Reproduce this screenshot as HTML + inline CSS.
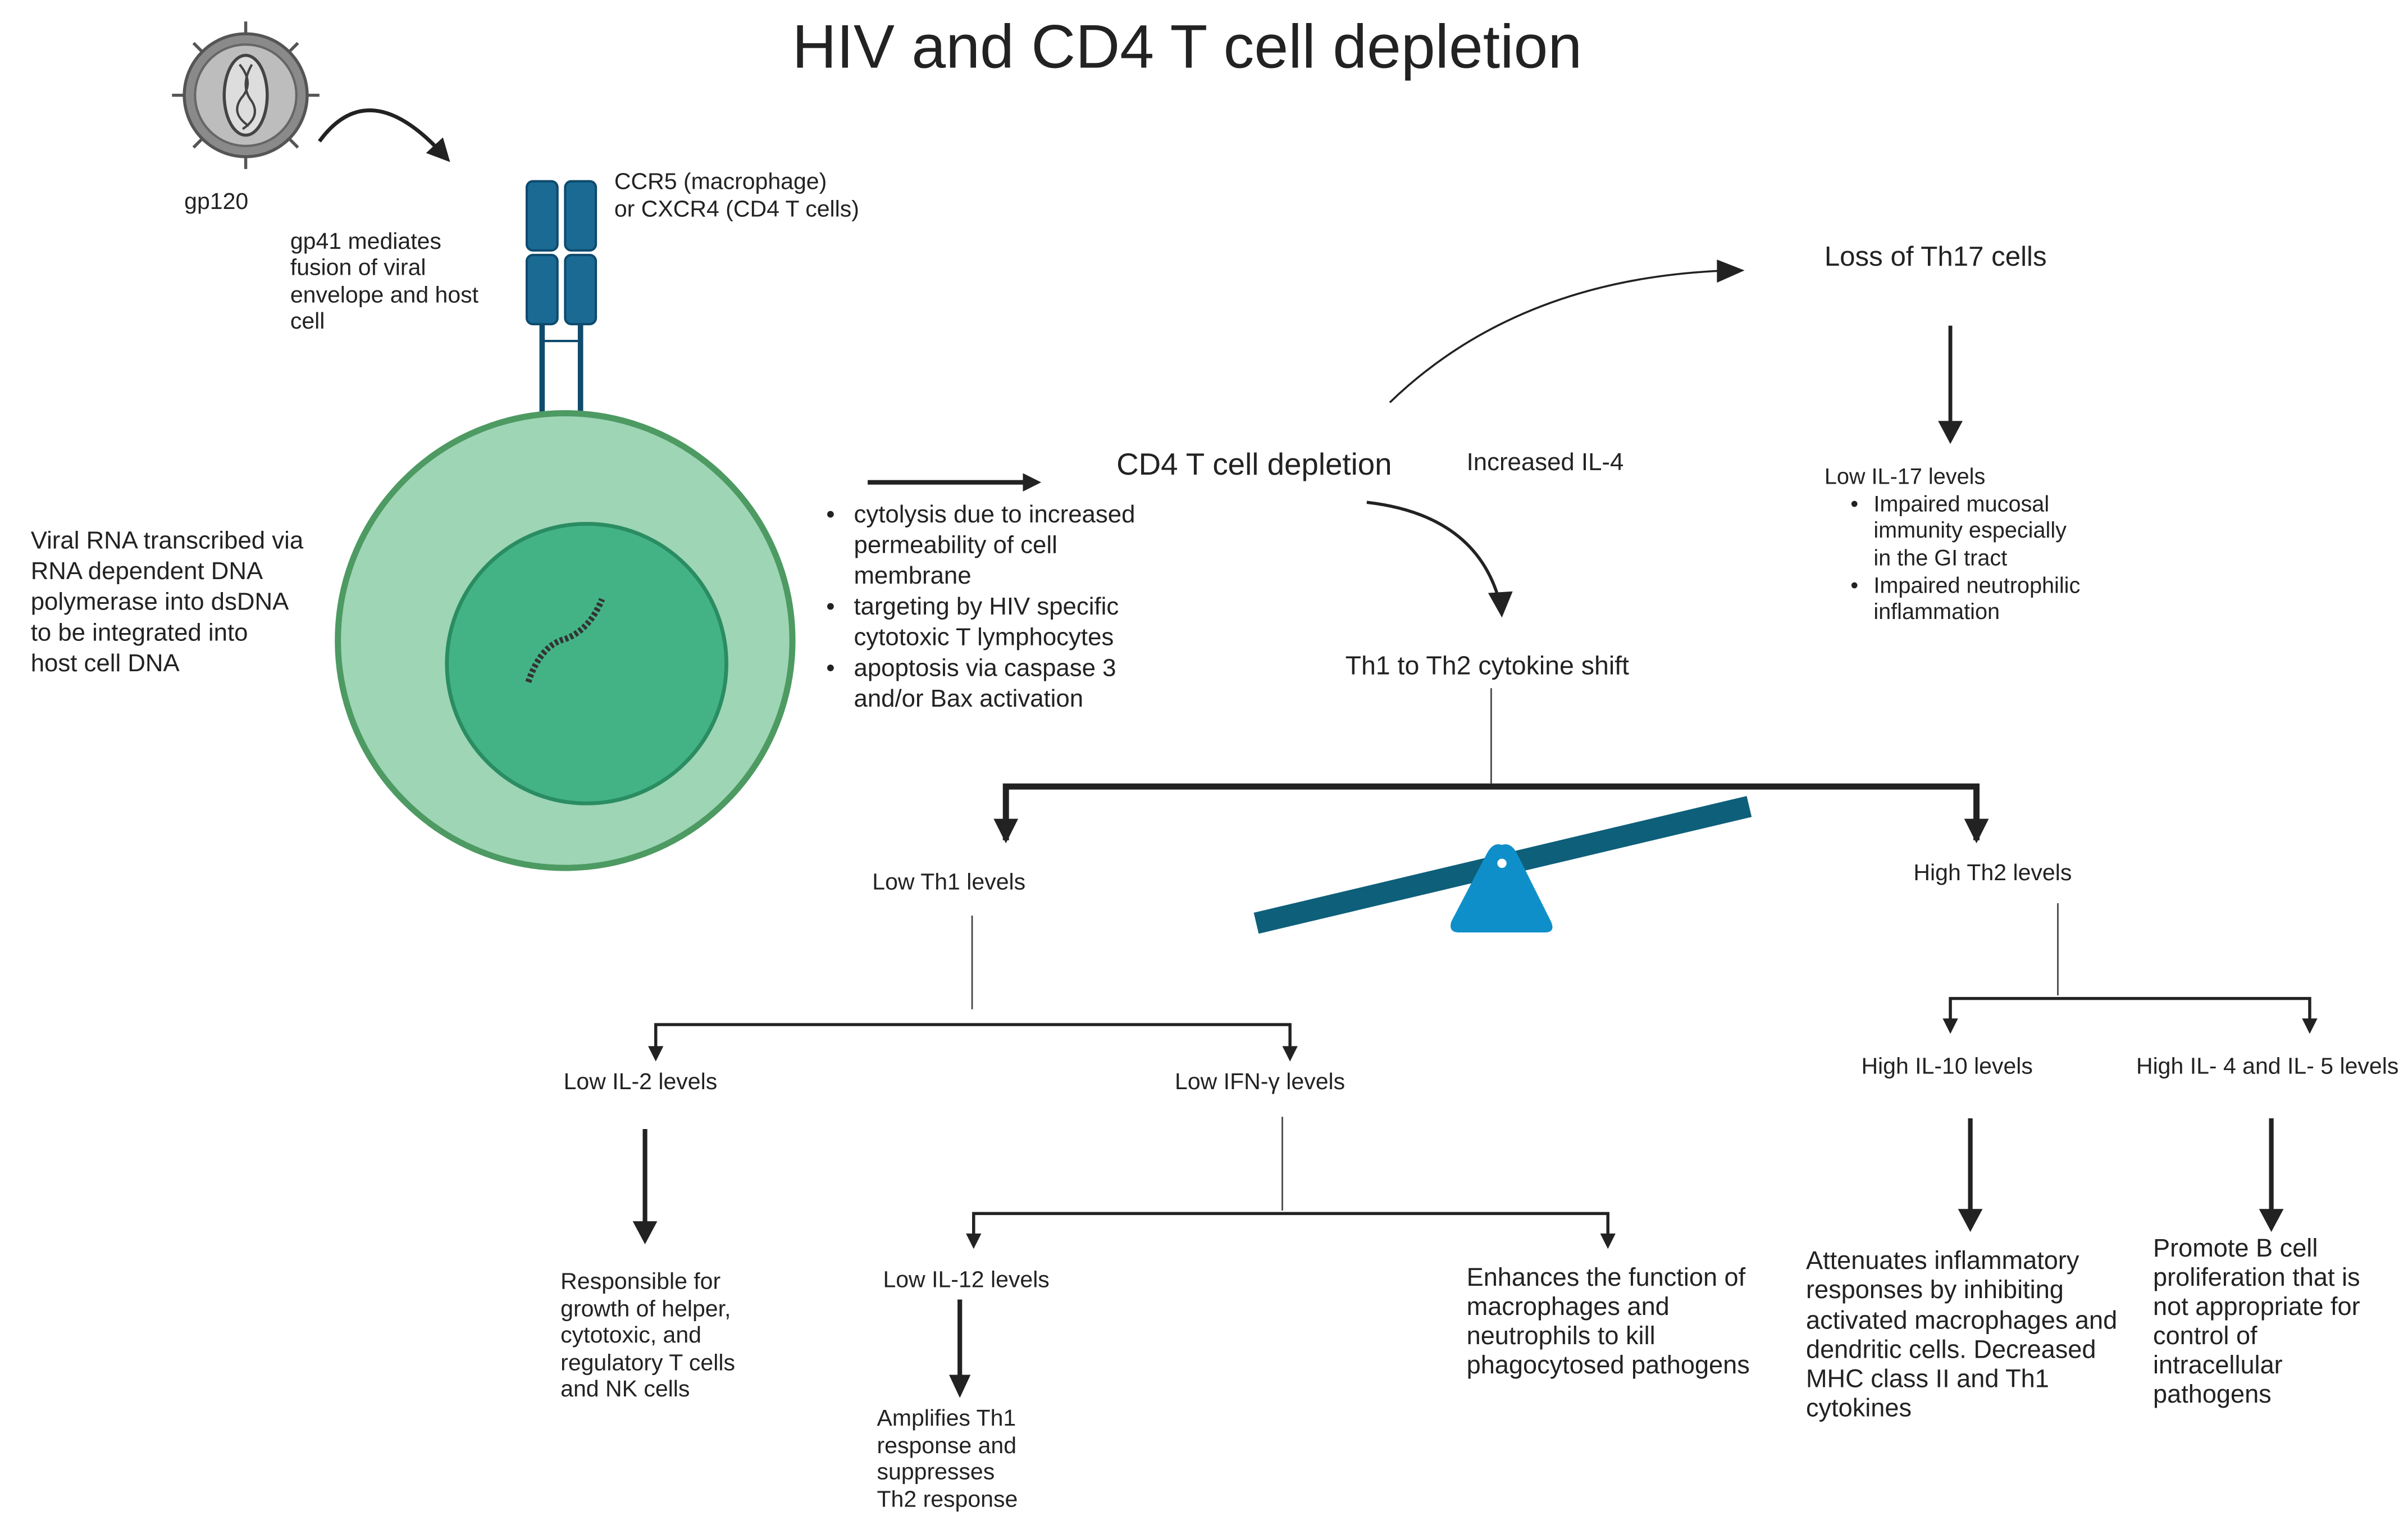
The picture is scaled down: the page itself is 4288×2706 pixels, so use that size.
<!DOCTYPE html>
<html><head><meta charset="utf-8"><style>
html,body{margin:0;padding:0;background:#fff;}
svg{display:block;}
text{font-family:"Liberation Sans",sans-serif;fill:#222;}
</style></head><body>
<svg width="4288" height="2706" viewBox="0 0 1568 989.5" xmlns="http://www.w3.org/2000/svg">
<defs>
<marker id="ah" markerWidth="6" markerHeight="6" refX="3" refY="3" orient="auto" markerUnits="strokeWidth"><path d="M0,0 L6,3 L0,6 z" fill="#222"/></marker>
<marker id="ah2" markerWidth="4" markerHeight="4" refX="2" refY="2" orient="auto" markerUnits="strokeWidth"><path d="M0,0 L4,2 L0,4 z" fill="#222"/></marker>
</defs>
<rect width="1568" height="989.5" fill="#fff"/>
<text x="773" y="44" font-size="40" text-anchor="middle">HIV and CD4 T cell depletion</text>

<!-- virus -->
<g transform="translate(160,62)">
<g stroke="#555" stroke-width="2">
<line x1="-48" y1="0" x2="48" y2="0"/><line x1="0" y1="-48" x2="0" y2="48"/>
<line x1="-34" y1="-34" x2="34" y2="34"/><line x1="-34" y1="34" x2="34" y2="-34"/>
</g>
<circle r="40" fill="#8a8a8a" stroke="#555" stroke-width="2"/>
<circle r="33" fill="#bdbdbd" stroke="#666" stroke-width="1.5"/>
<ellipse rx="14" ry="26" fill="#ddd" stroke="#444" stroke-width="2"/>
<path d="M-4,-20 Q6,-8 -3,2 Q-10,12 2,20" stroke="#444" fill="none" stroke-width="1.5"/>
<path d="M4,-20 Q-4,-6 4,4 Q10,14 -2,22" stroke="#444" fill="none" stroke-width="1.5"/>
</g>
<path d="M208,92 Q240,48 288,100" stroke="#222" stroke-width="2.5" fill="none" marker-end="url(#ah)"/>
<text x="120" y="136" font-size="15">gp120</text>

<!-- receptors -->
<g fill="#1a6a94" stroke="#0e4b6d" stroke-width="1.5">
<rect x="343" y="118" width="20" height="45" rx="4"/><rect x="343" y="166" width="20" height="45" rx="4"/>
<rect x="368" y="118" width="20" height="45" rx="4"/><rect x="368" y="166" width="20" height="45" rx="4"/>
</g>
<g stroke="#0e4b6d" stroke-width="3.5"><line x1="353" y1="211" x2="353" y2="293"/><line x1="378" y1="211" x2="378" y2="293"/></g>
<line x1="353" y1="222" x2="378" y2="222" stroke="#0e4b6d" stroke-width="1.5"/>
<text font-size="15"><tspan x="400" y="123">CCR5 (macrophage)</tspan><tspan x="400" y="141">or CXCR4 (CD4 T cells)</tspan></text>
<text font-size="15"><tspan x="189" y="162">gp41 mediates</tspan><tspan x="189" y="179">fusion of viral</tspan><tspan x="189" y="197">envelope and host</tspan><tspan x="189" y="214">cell</tspan></text>

<!-- cell -->
<circle cx="368" cy="417" r="148" fill="#9dd5b5" stroke="#4d9a62" stroke-width="4"/>
<circle cx="382" cy="432" r="91" fill="#43b385" stroke="#2a8c62" stroke-width="2.5"/>
<path d="M344,444 Q352,420 368,416 Q384,410 392,390" stroke="#333" stroke-width="4" fill="none" stroke-dasharray="2 1.5"/>
<text font-size="16"><tspan x="20" y="357">Viral RNA transcribed via</tspan><tspan x="20" y="377">RNA dependent DNA</tspan><tspan x="20" y="397">polymerase into dsDNA</tspan><tspan x="20" y="417">to be integrated into</tspan><tspan x="20" y="437">host cell DNA</tspan></text>

<line x1="565" y1="314" x2="672" y2="314" stroke="#222" stroke-width="3" marker-end="url(#ah2)"/>
<text x="727" y="309" font-size="20">CD4 T cell depletion</text>
<g font-size="16">
<text x="538" y="340">•</text><text x="556" y="340">cytolysis due to increased</text>
<text x="556" y="360">permeability of cell</text><text x="556" y="380">membrane</text>
<text x="538" y="400">•</text><text x="556" y="400">targeting by HIV specific</text>
<text x="556" y="420">cytotoxic T lymphocytes</text>
<text x="538" y="440">•</text><text x="556" y="440">apoptosis via caspase 3</text>
<text x="556" y="460">and/or Bax activation</text>
</g>
<text x="955" y="306" font-size="16">Increased IL-4</text>
<path d="M905,262 Q990,180 1128,176" stroke="#222" stroke-width="1.3" fill="none"/>
<path d="M1118,169 L1136,176 L1118,184 z" fill="#222"/>
<text x="1188" y="173" font-size="18">Loss of Th17 cells</text>
<line x1="1270" y1="212" x2="1270" y2="278" stroke="#222" stroke-width="2.5"/>
<path d="M1262,274 L1270,289 L1278,274 z" fill="#222"/>
<g font-size="14.5">
<text x="1188" y="315">Low IL-17 levels</text>
<text x="1205" y="333">•</text><text x="1220" y="333">Impaired mucosal</text>
<text x="1220" y="350">immunity especially</text><text x="1220" y="368">in the GI tract</text>
<text x="1205" y="386">•</text><text x="1220" y="386">Impaired neutrophilic</text>
<text x="1220" y="403">inflammation</text>
</g>
<path d="M890,327 Q960,335 976,390" stroke="#222" stroke-width="2" fill="none"/>
<path d="M969,386 L978,402 L985,385 z" fill="#222"/>
<text x="876" y="439" font-size="17">Th1 to Th2 cytokine shift</text>
<line x1="971" y1="448" x2="971" y2="510" stroke="#444" stroke-width="1"/>
<path d="M655,547 L655,512 L1287,512 L1287,547" stroke="#222" stroke-width="4" fill="none"/>
<path d="M647,533 L655,549 L663,533 z" fill="#222"/><path d="M1279,533 L1287,549 L1295,533 z" fill="#222"/>

<!-- seesaw -->
<line x1="818" y1="601" x2="1139" y2="525" stroke="#0e5f7a" stroke-width="14"/>
<path d="M978,550 Q972,548 968,556 L945,600 Q943,607 950,607 L1006,607 Q1013,607 1010,600 L988,556 Q984,548 978,550 z" fill="#0f8fc9"/>
<circle cx="978" cy="562" r="3" fill="#fff"/>

<text x="568" y="579" font-size="15">Low Th1 levels</text>
<line x1="633" y1="596" x2="633" y2="657" stroke="#444" stroke-width="1"/>
<path d="M427,685 L427,667 L840,667 L840,685" stroke="#222" stroke-width="2" fill="none"/>
<path d="M422,681 L427,691 L432,681 z" fill="#222"/><path d="M835,681 L840,691 L845,681 z" fill="#222"/>
<text x="1246" y="573" font-size="15">High Th2 levels</text>
<line x1="1340" y1="588" x2="1340" y2="648" stroke="#444" stroke-width="1"/>
<path d="M1270,667 L1270,650 L1504,650 L1504,667" stroke="#222" stroke-width="2" fill="none"/>
<path d="M1265,663 L1270,673 L1275,663 z" fill="#222"/><path d="M1499,663 L1504,673 L1509,663 z" fill="#222"/>

<g font-size="15">
<text x="367" y="709">Low IL-2 levels</text>
<text x="765" y="709">Low IFN-γ levels</text>
<text x="1212" y="699">High IL-10 levels</text>
<text x="1391" y="699">High IL- 4 and IL- 5 levels</text>
</g>
<g stroke="#222" stroke-width="3">
<line x1="420" y1="735" x2="420" y2="798"/><line x1="1283" y1="728" x2="1283" y2="790"/><line x1="1479" y1="728" x2="1479" y2="790"/>
<line x1="625" y1="846" x2="625" y2="898"/>
</g>
<path d="M412,795 L420,810 L428,795 z" fill="#222"/>
<path d="M1275,787 L1283,802 L1291,787 z" fill="#222"/>
<path d="M1471,787 L1479,802 L1487,787 z" fill="#222"/>
<path d="M618,895 L625,910 L632,895 z" fill="#222"/>
<line x1="835" y1="727" x2="835" y2="788" stroke="#444" stroke-width="1"/>
<path d="M634,807 L634,790 L1047,790 L1047,807" stroke="#222" stroke-width="2" fill="none"/>
<path d="M629,803 L634,813 L639,803 z" fill="#222"/><path d="M1042,803 L1047,813 L1052,803 z" fill="#222"/>

<g font-size="15">
<text x="365" y="839">Responsible for</text><text x="365" y="857">growth of helper,</text><text x="365" y="874">cytotoxic, and</text><text x="365" y="892">regulatory T cells</text><text x="365" y="909">and NK cells</text>
<text x="575" y="838">Low IL-12 levels</text>
<text x="571" y="928">Amplifies Th1</text><text x="571" y="946">response and</text><text x="571" y="963">suppresses</text><text x="571" y="981">Th2 response</text>
</g>
<g font-size="16.5">
<text x="955" y="837">Enhances the function of</text><text x="955" y="856">macrophages and</text><text x="955" y="875">neutrophils to kill</text><text x="955" y="894">phagocytosed pathogens</text>
<text x="1176" y="826">Attenuates inflammatory</text><text x="1176" y="845">responses by inhibiting</text><text x="1176" y="865">activated macrophages and</text><text x="1176" y="884">dendritic cells. Decreased</text><text x="1176" y="903">MHC class II and Th1</text><text x="1176" y="922">cytokines</text>
<text x="1402" y="818">Promote B cell</text><text x="1402" y="837">proliferation that is</text><text x="1402" y="856">not appropriate for</text><text x="1402" y="875">control of</text><text x="1402" y="894">intracellular</text><text x="1402" y="913">pathogens</text>
</g>
</svg>
</body></html>
